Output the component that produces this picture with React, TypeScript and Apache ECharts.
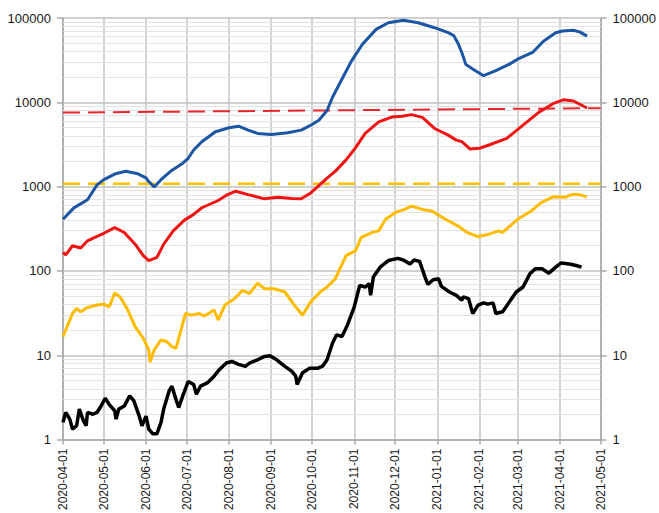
import React, { useEffect, useRef } from "react";
import * as echarts from "echarts";

type P = [string, number];

const monthTicks: string[] = [
  "2020-04-01", "2020-05-01", "2020-06-01", "2020-07-01", "2020-08-01", "2020-09-01", "2020-10-01",
  "2020-11-01", "2020-12-01", "2021-01-01", "2021-02-01", "2021-03-01", "2021-04-01", "2021-05-01",
];

const yTicks: number[] = [1, 10, 100, 1000, 10000, 100000];

const minorGrid: number[] = [
  2, 3, 4, 5, 6, 7, 8, 9,
  20, 30, 40, 50, 60, 70, 80, 90,
  200, 300, 400, 500, 600, 700, 800, 900,
  2000, 3000, 4000, 5000, 6000, 7000, 8000, 9000,
  20000, 30000, 40000, 50000, 60000, 70000, 80000, 90000,
];

const blueSeries: P[] = [
  ["2020-04-01", 410], ["2020-04-09", 560], ["2020-04-19", 700], ["2020-04-26", 1050],
  ["2020-05-01", 1210], ["2020-05-09", 1410], ["2020-05-17", 1520], ["2020-05-26", 1420],
  ["2020-06-01", 1270], ["2020-06-03", 1150], ["2020-06-07", 990], ["2020-06-12", 1210],
  ["2020-06-19", 1520], ["2020-06-28", 1900], ["2020-07-02", 2170], ["2020-07-06", 2720],
  ["2020-07-12", 3410], ["2020-07-22", 4480], ["2020-08-01", 4990], ["2020-08-08", 5210],
  ["2020-08-15", 4680], ["2020-08-22", 4280], ["2020-09-01", 4160], ["2020-09-13", 4360],
  ["2020-09-23", 4680], ["2020-09-30", 5350], ["2020-10-06", 6120], ["2020-10-12", 8000],
  ["2020-10-16", 11500], ["2020-10-23", 18900], ["2020-10-30", 31000], ["2020-11-07", 48800],
  ["2020-11-17", 73300], ["2020-11-26", 87900], ["2020-12-07", 94300], ["2020-12-18", 87900],
  ["2020-12-30", 76700], ["2021-01-09", 67000], ["2021-01-13", 62000], ["2021-01-16", 51000],
  ["2021-01-19", 39000], ["2021-01-22", 28000], ["2021-01-27", 24800], ["2021-02-04", 20700],
  ["2021-02-13", 23700], ["2021-02-23", 28400], ["2021-03-01", 32500], ["2021-03-12", 39000],
  ["2021-03-20", 53000], ["2021-03-29", 67000], ["2021-04-03", 70000], ["2021-04-11", 71500],
  ["2021-04-16", 68000], ["2021-04-21", 61000],
];

const redSeries: P[] = [
  ["2020-04-01", 166], ["2020-04-03", 155], ["2020-04-08", 199], ["2020-04-14", 187],
  ["2020-04-19", 228], ["2020-04-24", 249], ["2020-05-01", 280], ["2020-05-09", 327],
  ["2020-05-16", 286], ["2020-05-24", 208], ["2020-05-30", 152], ["2020-06-03", 133],
  ["2020-06-09", 145], ["2020-06-14", 208], ["2020-06-21", 299], ["2020-06-29", 398],
  ["2020-07-06", 469], ["2020-07-12", 562], ["2020-07-24", 685], ["2020-07-31", 805],
  ["2020-08-06", 883], ["2020-08-15", 805], ["2020-08-27", 717], ["2020-09-06", 750],
  ["2020-09-16", 722], ["2020-09-23", 717], ["2020-09-30", 843], ["2020-10-06", 1028],
  ["2020-10-12", 1265], ["2020-10-18", 1517], ["2020-10-26", 2076], ["2020-11-02", 2905],
  ["2020-11-09", 4276], ["2020-11-19", 5867], ["2020-11-29", 6710], ["2020-12-06", 6820],
  ["2020-12-13", 7150], ["2020-12-21", 6630], ["2020-12-30", 4895], ["2021-01-09", 4080],
  ["2021-01-15", 3565], ["2021-01-19", 3414], ["2021-01-25", 2800], ["2021-02-01", 2850],
  ["2021-02-08", 3116], ["2021-02-21", 3735], ["2021-03-05", 5354], ["2021-03-17", 7690],
  ["2021-03-27", 9640], ["2021-04-04", 10740], ["2021-04-11", 10360], ["2021-04-21", 8570],
];

const yellowSeries: P[] = [
  ["2020-04-01", 16.7], ["2020-04-05", 23.9], ["2020-04-08", 31.3], ["2020-04-11", 35.9],
  ["2020-04-14", 32.8], ["2020-04-19", 36.9], ["2020-04-26", 39.4], ["2020-05-01", 40.4],
  ["2020-05-05", 37.6], ["2020-05-09", 54.8], ["2020-05-13", 49.2], ["2020-05-18", 35.9],
  ["2020-05-24", 21.9], ["2020-05-30", 15.9], ["2020-06-03", 11.6], ["2020-06-04", 8.3],
  ["2020-06-07", 11.6], ["2020-06-12", 15.2], ["2020-06-16", 14.6], ["2020-06-20", 12.7],
  ["2020-06-23", 12.1], ["2020-06-26", 18.2], ["2020-06-30", 31.3], ["2020-07-04", 29.9],
  ["2020-07-10", 31.3], ["2020-07-14", 29.2], ["2020-07-21", 34.4], ["2020-07-24", 26.2],
  ["2020-07-29", 39.4], ["2020-08-05", 47], ["2020-08-11", 59], ["2020-08-16", 54],
  ["2020-08-22", 71.9], ["2020-08-27", 61.6], ["2020-09-03", 61.6], ["2020-09-11", 56.3],
  ["2020-09-18", 39.4], ["2020-09-24", 29.9], ["2020-09-30", 43], ["2020-10-07", 56.3],
  ["2020-10-12", 64.5], ["2020-10-18", 80.7], ["2020-10-26", 152], ["2020-11-02", 174],
  ["2020-11-06", 249], ["2020-11-14", 286], ["2020-11-19", 299], ["2020-11-24", 410],
  ["2020-12-01", 491], ["2020-12-08", 537], ["2020-12-13", 588], ["2020-12-21", 537],
  ["2020-12-28", 514], ["2021-01-07", 410], ["2021-01-16", 343], ["2021-01-23", 286],
  ["2021-01-31", 256], ["2021-02-08", 273], ["2021-02-15", 299], ["2021-02-18", 286],
  ["2021-03-01", 410], ["2021-03-11", 514], ["2021-03-18", 643], ["2021-03-27", 757],
  ["2021-04-05", 750], ["2021-04-10", 805], ["2021-04-15", 805], ["2021-04-21", 757],
];

const blackSeries: P[] = [
  ["2020-04-01", 1.6], ["2020-04-03", 2.1], ["2020-04-06", 1.75], ["2020-04-08", 1.33],
  ["2020-04-11", 1.46], ["2020-04-13", 2.3], ["2020-04-16", 1.67], ["2020-04-18", 1.46],
  ["2020-04-19", 2.1], ["2020-04-23", 2.0], ["2020-04-26", 2.1], ["2020-04-29", 2.5],
  ["2020-05-02", 3.1], ["2020-05-05", 2.6], ["2020-05-09", 2.2], ["2020-05-10", 1.75],
  ["2020-05-12", 2.3], ["2020-05-16", 2.5], ["2020-05-20", 3.3], ["2020-05-23", 2.9],
  ["2020-05-27", 1.9], ["2020-05-29", 1.46], ["2020-06-01", 1.9], ["2020-06-03", 1.33],
  ["2020-06-06", 1.17], ["2020-06-09", 1.17], ["2020-06-12", 1.6], ["2020-06-14", 2.3],
  ["2020-06-18", 3.8], ["2020-06-20", 4.3], ["2020-06-23", 3.0], ["2020-06-25", 2.4],
  ["2020-06-28", 3.3], ["2020-07-02", 4.9], ["2020-07-06", 4.5], ["2020-07-08", 3.45],
  ["2020-07-11", 4.3], ["2020-07-16", 4.7], ["2020-07-21", 5.65], ["2020-07-25", 6.8],
  ["2020-07-30", 8.1], ["2020-08-03", 8.45], ["2020-08-08", 7.8], ["2020-08-13", 7.4],
  ["2020-08-16", 8.1], ["2020-08-22", 8.85], ["2020-08-27", 9.7], ["2020-08-31", 9.9],
  ["2020-09-05", 8.85], ["2020-09-11", 7.4], ["2020-09-16", 6.5], ["2020-09-19", 5.65],
  ["2020-09-20", 4.5], ["2020-09-24", 6.2], ["2020-09-29", 7.0], ["2020-10-05", 7.0],
  ["2020-10-09", 7.5], ["2020-10-12", 8.85], ["2020-10-16", 13.9], ["2020-10-19", 17.5],
  ["2020-10-23", 16.7], ["2020-10-27", 22.9], ["2020-11-01", 37.6], ["2020-11-05", 67.5],
  ["2020-11-09", 64.5], ["2020-11-12", 70.6], ["2020-11-13", 51.4], ["2020-11-15", 84.6],
  ["2020-11-20", 111], ["2020-11-26", 133], ["2020-12-03", 141], ["2020-12-07", 135],
  ["2020-12-12", 121], ["2020-12-15", 135], ["2020-12-19", 130], ["2020-12-23", 84.6],
  ["2020-12-25", 69.2], ["2020-12-29", 78.6], ["2021-01-02", 80.7], ["2021-01-04", 65.6],
  ["2021-01-10", 56.3], ["2021-01-15", 51.4], ["2021-01-19", 45], ["2021-01-20", 49.2],
  ["2021-01-24", 47], ["2021-01-27", 31.3], ["2021-01-31", 39.4], ["2021-02-04", 41.8],
  ["2021-02-07", 40.4], ["2021-02-11", 41.8], ["2021-02-13", 31.3], ["2021-02-18", 32.8],
  ["2021-02-23", 43], ["2021-02-28", 56.3], ["2021-03-05", 64.5], ["2021-03-10", 92.5],
  ["2021-03-14", 106], ["2021-03-19", 106], ["2021-03-24", 94.2], ["2021-03-29", 111],
  ["2021-04-02", 124.5], ["2021-04-08", 121], ["2021-04-13", 116], ["2021-04-17", 111],
];

const redDashed: P[] = [["2020-04-01", 7550], ["2021-05-01", 8530]];
const yellowDashed: P[] = [["2020-04-01", 1080], ["2021-05-01", 1080]];

const FONT = "'Liberation Sans', Arial, sans-serif";

export default function App() {
  const ref = useRef<HTMLDivElement>(null);
  useEffect(() => {
    if (!ref.current) return;
    const chart = echarts.init(ref.current, null, { renderer: "svg" });
    const yAxisBase = (position: "left" | "right", split: boolean) => ({
      type: "log",
      logBase: 10,
      min: yTicks[0],
      max: yTicks[yTicks.length - 1],
      position,
      axisLine: { show: true, lineStyle: { color: "#a8a8a8", width: 1.5 } },
      axisTick: { show: true, length: 6, lineStyle: { color: "#a8a8a8", width: 1.5 } },
      axisLabel: {
        margin: 12,
        fontSize: 13,
        color: "#1a1a1a",
        fontFamily: FONT,
        formatter: (v: number) => String(Math.round(v)),
      },
      splitLine: { show: split, lineStyle: { color: "#c0c0c0", width: 1.5 } },
    });
    const line = (data: P[], color: string, width: number, dash: "solid" | number[] = "solid") => ({
      type: "line",
      data,
      showSymbol: false,
      symbol: "none",
      z: 3,
      lineStyle: { color, width, type: dash },
    });
    chart.setOption({
      animation: false,
      grid: { left: 63, right: 54, top: 18, bottom: 69 },
      xAxis: {
        type: "time",
        min: monthTicks[0],
        max: monthTicks[monthTicks.length - 1],
        splitNumber: monthTicks.length - 1,
        minInterval: 28 * 86400000,
        maxInterval: 31 * 86400000,
        axisLine: { show: true, lineStyle: { color: "#a8a8a8", width: 1.5 } },
        axisTick: { show: true, length: 5, lineStyle: { color: "#a8a8a8", width: 1.5 } },
        axisLabel: {
          rotate: 90,
          margin: 9,
          fontSize: 12,
          color: "#1a1a1a",
          fontFamily: FONT,
          formatter: "{yyyy}-{MM}-{dd}",
          hideOverlap: false,
          showMinLabel: true,
          showMaxLabel: true,
        },
        splitLine: { show: true, lineStyle: { color: "#c4c4c4", width: 1.5 } },
      },
      yAxis: [yAxisBase("left", true), yAxisBase("right", false)],
      series: [
        {
          type: "line",
          data: [],
          z: 1,
          silent: true,
          markLine: {
            z: 1,
            silent: true,
            animation: false,
            symbol: ["none", "none"],
            label: { show: false },
            lineStyle: { color: "#e3e3e3", width: 1.2, type: "solid" },
            emphasis: { disabled: true },
            data: minorGrid.map((v) => ({ yAxis: v })),
          },
        },
        line(redDashed, "#e8262b", 2, [17, 8]),
        line(yellowDashed, "#ffc000", 2.5, [17, 8]),
        line(blueSeries, "#1b55a3", 3),
        line(redSeries, "#f01414", 3),
        line(yellowSeries, "#ffbb00", 3),
        line(blackSeries, "#000000", 3.5),
      ],
    });
    return () => chart.dispose();
  }, []);
  return (
    <div
      ref={ref}
      style={{ position: "absolute", left: 0, top: 0, width: 659, height: 513, background: "#fff" }}
    />
  );
}
